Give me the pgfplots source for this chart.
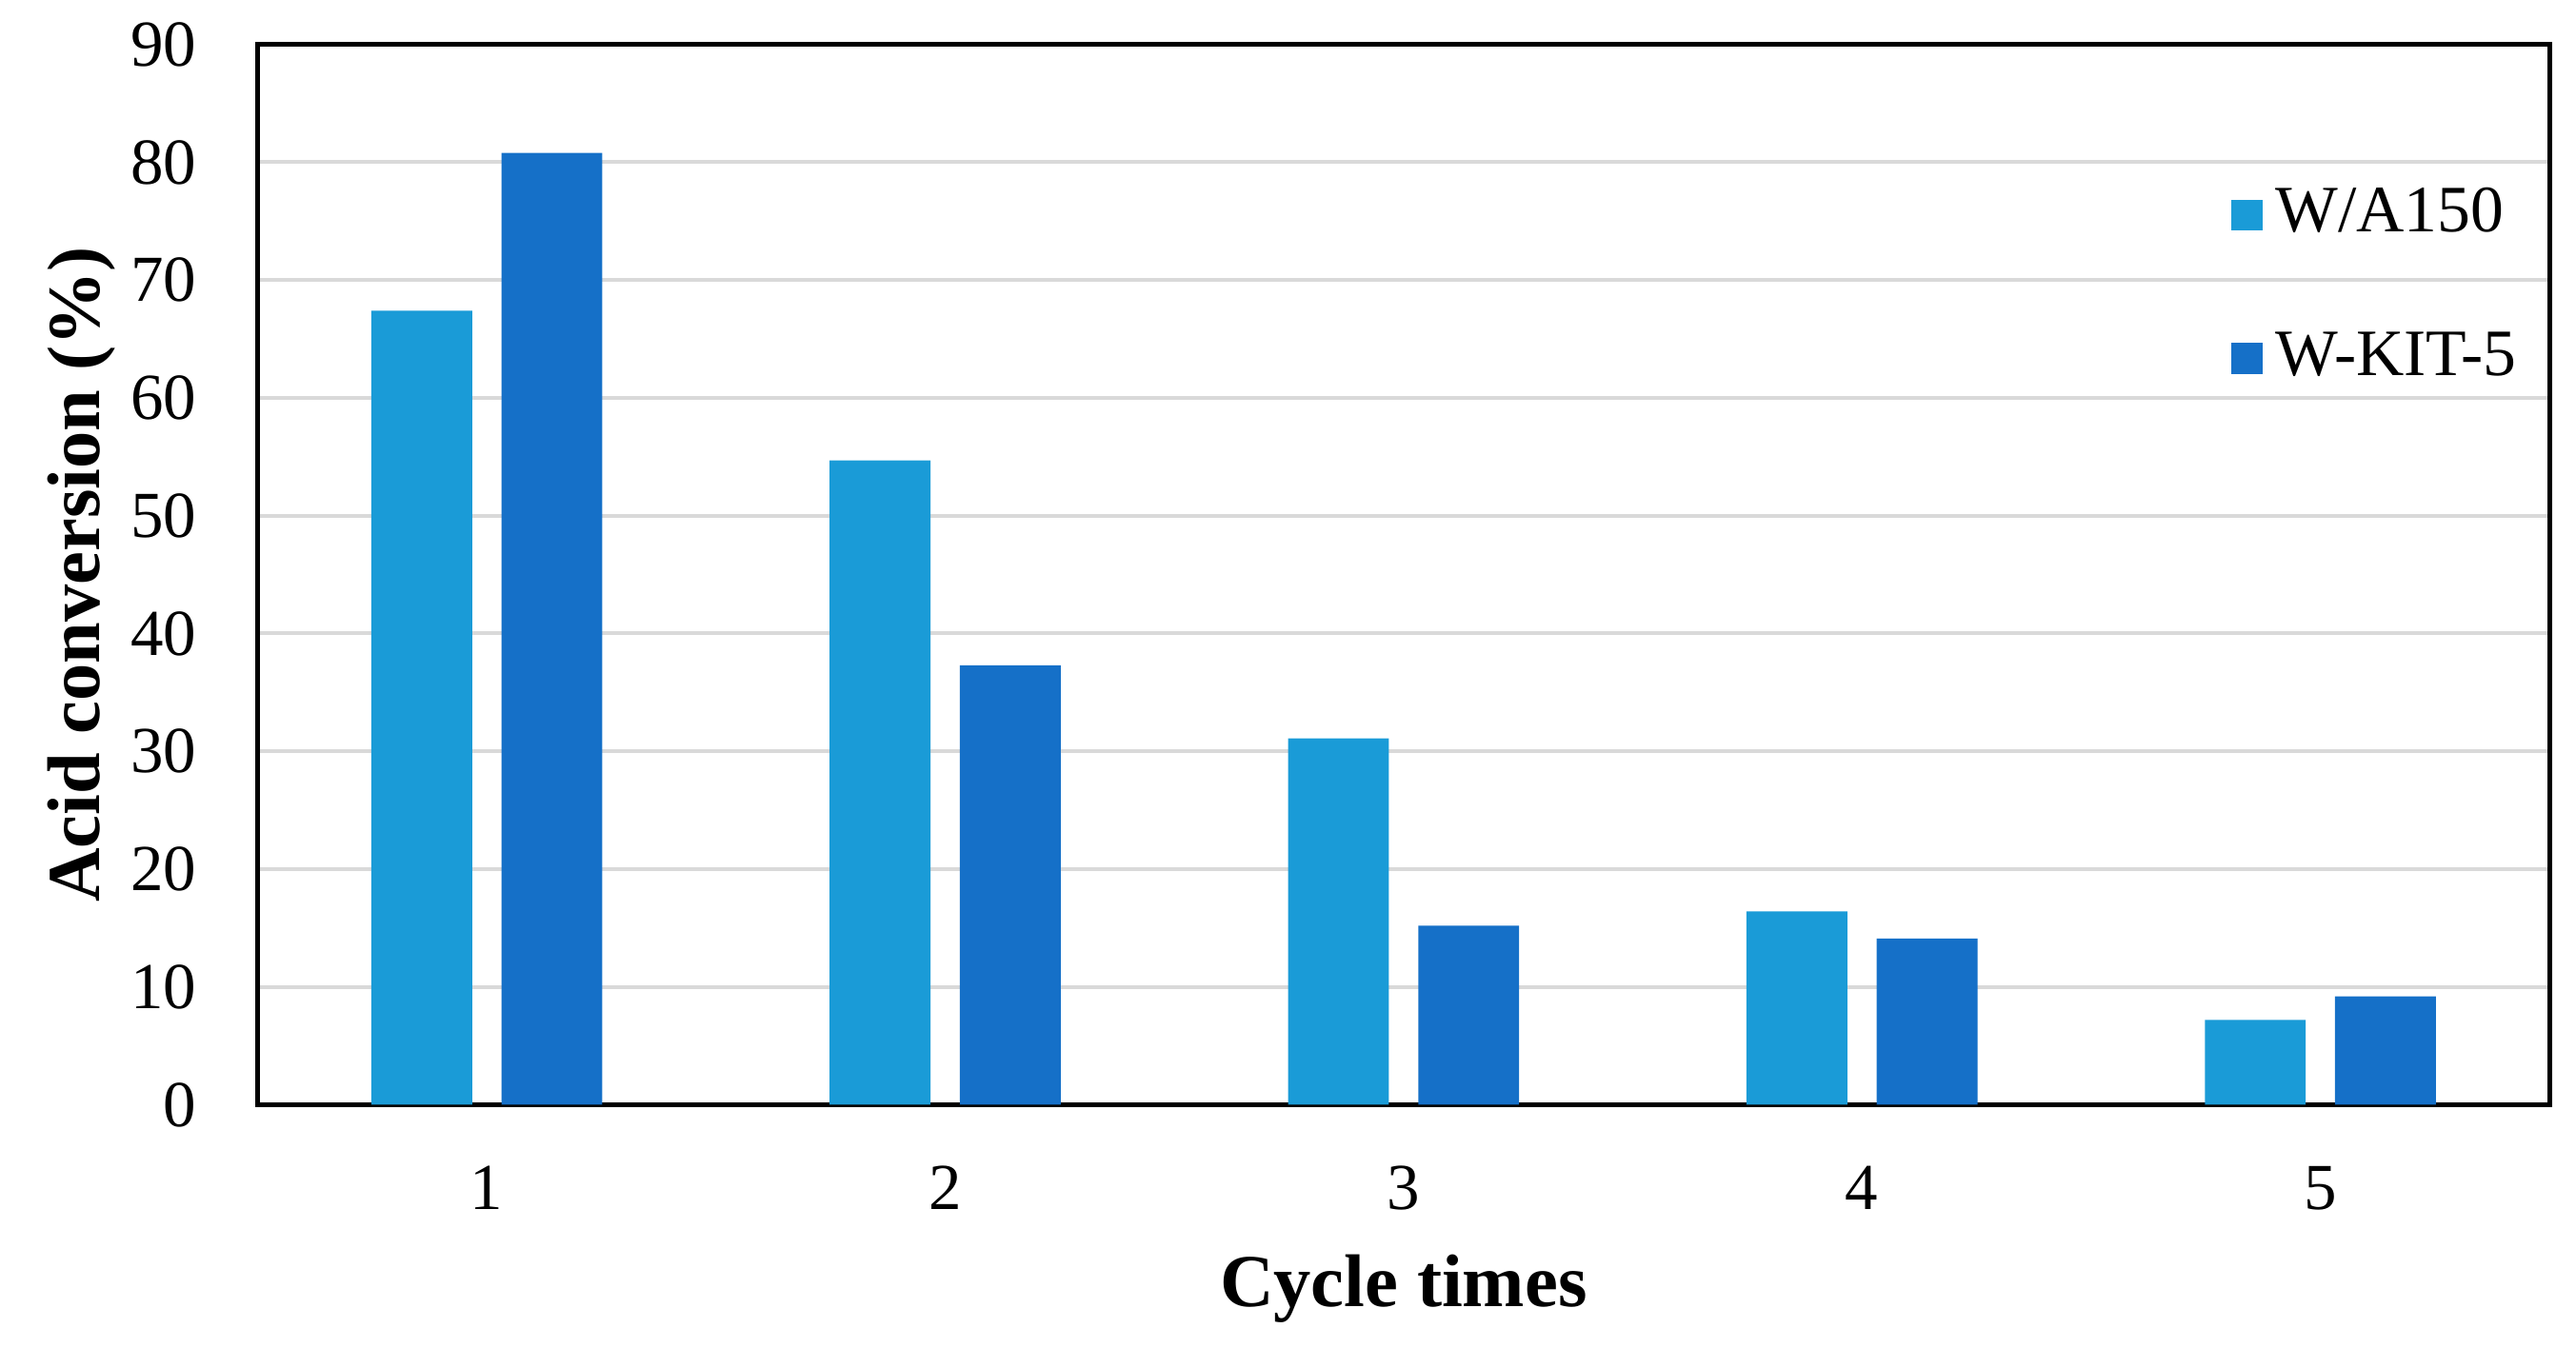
\documentclass[border=0pt]{standalone}
\usepackage{fontspec}
\setmainfont{Liberation Serif}
\usepackage{pgfplots}
\pgfplotsset{compat=1.18}

\definecolor{wa}{RGB}{26,155,215}
\definecolor{wkit}{RGB}{21,112,200}
\definecolor{gridc}{RGB}{217,217,217}

\begin{document}
\begin{tikzpicture}
\path[use as bounding box] (-40pt,-37.7pt) rectangle (360pt,171.6pt);
\begin{axis}[
    at={(0,0)}, anchor=south west,
    scale only axis,
    width=355.9pt, height=164.7pt,
    xmin=0.5, xmax=5.5,
    ymin=0, ymax=90,
    xtick={1,2,3,4,5},
    ytick={0,10,...,90},
    major tick length=0pt,
    ymajorgrids,
    grid style={gridc, line width=0.6pt},
    axis line style={black, line width=0.7pt},
    tick label style={font=\fontsize{10.2}{12}\selectfont},
    /pgf/number format/assume math mode=true,
    yticklabel style={xshift=-6pt},
    xticklabel style={yshift=-6pt},
    xlabel={\textbf{Cycle times}},
    ylabel={\textbf{Acid conversion (\%)}},
    label style={font=\fontsize{11.6}{13}\selectfont},
    xlabel style={yshift=0pt},
    ylabel style={yshift=-4.5pt},
    ybar, bar width=0.22,
    clip=false,
    legend style={draw=none, fill=none, at={(1.0,0.89)}, anchor=north east,
      font=\fontsize{10.3}{12}\selectfont, row sep=10pt,
      /tikz/every even column/.append style={column sep=2pt}},
    legend cell align=left,
    legend image code/.code={\fill[#1] (0pt,-2.4pt) rectangle (4.8pt,2.4pt);},
]
\addplot[draw=none, fill=wa, bar shift=-0.142] coordinates {(1,67.4) (2,54.7) (3,31.1) (4,16.4) (5,7.2)};
\addplot[draw=none, fill=wkit, bar shift=0.142] coordinates {(1,80.8) (2,37.3) (3,15.2) (4,14.1) (5,9.2)};
\legend{W/A150, W-KIT-5}
\end{axis}
\end{tikzpicture}
\end{document}
